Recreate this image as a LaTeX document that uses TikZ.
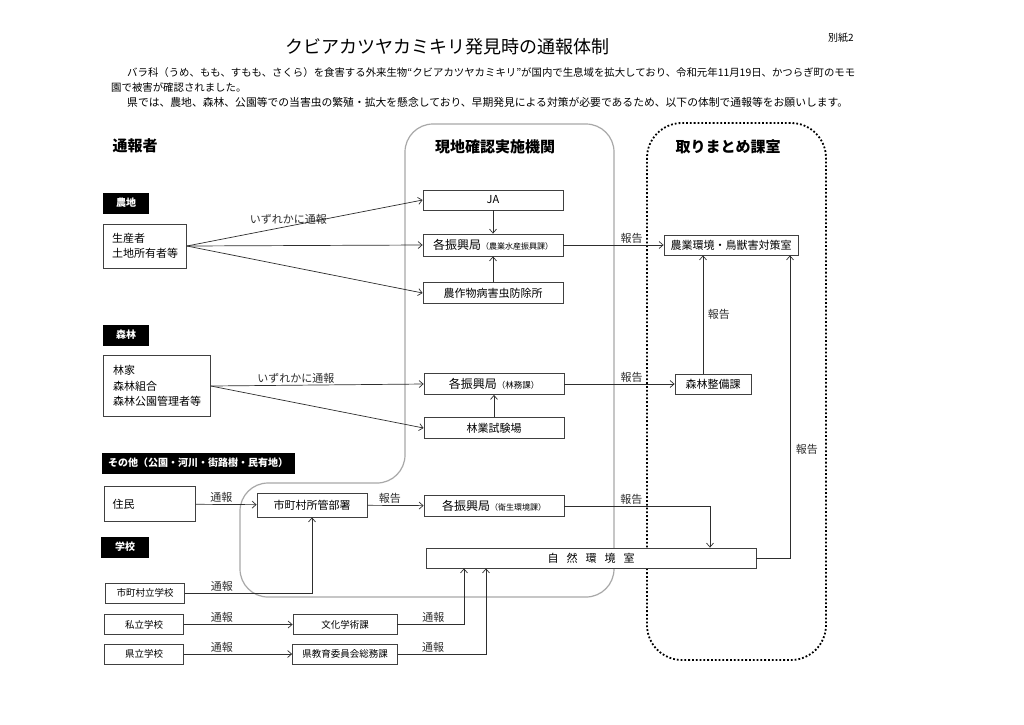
\documentclass[tikz,border=0pt]{standalone}
\usepackage{fontspec}
\setmainfont{Noto Sans CJK JP}
\usepackage{tikz}
\usetikzlibrary{arrows.meta, positioning}
\definecolor{edge}{HTML}{2E2E2E}
\definecolor{frame}{HTML}{A8A8A8}

\begin{document}
\begin{tikzpicture}[x=1pt, y=-1pt,
    box/.style={rectangle, draw=black!75, line width=0.8pt, fill=white, inner sep=0pt,
                font=\fontsize{11}{15.5}\selectfont},
    smallbox/.style={box, minimum width=79pt, minimum height=20pt, font=\fontsize{9.5}{11}\selectfont},
    office/.style={box, minimum width=140pt, minimum height=21pt, font=\fontsize{12}{13}\selectfont},
    tag/.style={rectangle, fill=black, text=white, inner sep=0pt, minimum height=21pt,
                font=\fontsize{10}{11}\selectfont\bfseries},
    head/.style={font=\fontsize{15}{16}\selectfont\bfseries},
    para/.style={anchor=west, inner sep=0pt, font=\fontsize{10.4}{12}\selectfont},
    arr/.style={-{Straight Barb[length=4pt, width=7pt]}, line width=0.7pt, edge},
    lbl/.style={font=\fontsize{11}{12}\selectfont, inner sep=1.5pt}
]
\useasboundingbox (0,0) rectangle (1024,724);
\fill[white] (0,0) rectangle (1024,724);

\node[font=\fontsize{18}{20}\selectfont] (title) at (447,47) {クビアカツヤカミキリ発見時の通報体制};
\node[font=\fontsize{10}{12}\selectfont] (annex) at (841,38) {別紙2};
\node[para] (intro1) at (127,73) {バラ科（うめ、もも、すもも、さくら）を食害する外来生物“クビアカツヤカミキリ”が国内で生息域を拡大しており、令和元年11月19日、かつらぎ町のモモ};
\node[para] (intro2) at (111,88) {園で被害が確認されました。};
\node[para, font=\fontsize{10.8}{12}\selectfont] (intro3) at (127,102) {県では、農地、森林、公園等での当害虫の繁殖・拡大を懸念しており、早期発見による対策が必要であるため、以下の体制で通報等をお願いします。};

\draw[frame, line width=1.2pt, rounded corners=28pt]
    (510,124) -- (614,124) -- (614,597) -- (240,597) -- (240,483) -- (405,483) -- (405,124) -- cycle;
\draw[black, line width=1.8pt, dotted, rounded corners=35pt] (647,123) rectangle (826,660);

\node[head] (hreporter) at (135,146) {通報者};
\node[head] (hcheck) at (495,147) {現地確認実施機関};
\node[head] (hsummary) at (728,147) {取りまとめ課室};

\node[tag, minimum width=46pt] (farm) at (126,203) {農地};
\node[tag, minimum width=46pt] (forest) at (126,335) {森林};
\node[tag, minimum width=193pt] (other) at (198,463) {その他（公園・河川・街路樹・民有地）};
\node[tag, minimum width=48pt] (school) at (125,547) {学校};

\node[box, minimum width=83pt, minimum height=44pt, align=left] (grower) at (145,246) {生産者\\土地所有者等};
\node[box, minimum width=107pt, minimum height=61pt, align=left] (forester) at (157,386) {林家\\森林組合\\森林公園管理者等};
\node[box, text width=75pt, inner xsep=8pt, minimum height=35pt, align=left] (resident) at (150,504) {住民};
\node[smallbox] (cityschool) at (145,593) {市町村立学校};
\node[smallbox] (privschool) at (144,624.5) {私立学校};
\node[smallbox] (prefschool) at (144,654) {県立学校};

\node[box, minimum width=140pt, minimum height=20pt] (ja) at (493,200) {JA};
\node[office, minimum height=22pt] (agrioffice) at (493,245) {各振興局{\fontsize{8}{9}\selectfont（農業水産振興課）}};
\node[box, minimum width=140pt, minimum height=21pt] (pestctl) at (493,293) {農作物病害虫防除所};
\node[office] (forestoffice) at (494,384) {各振興局{\fontsize{8.5}{9}\selectfont（林務課）}};
\node[box, minimum width=140pt, minimum height=21pt] (forestlab) at (494,428) {林業試験場};
\node[office] (envoffice) at (494,506) {各振興局{\fontsize{8}{9}\selectfont（衛生環境課）}};
\node[box, minimum width=110pt, minimum height=24pt] (citydept) at (312,505) {市町村所管部署};
\node[box, minimum width=330pt, minimum height=20pt] (nature) at (591,558) {自\hspace{8pt}然\hspace{8pt}環\hspace{8pt}境\hspace{8pt}室};
\node[smallbox, minimum width=104pt] (culture) at (345,624.5) {文化学術課};
\node[smallbox, minimum width=105pt] (eduboard) at (345,654) {県教育委員会総務課};

\node[box, minimum width=134pt, minimum height=20pt] (agrienv) at (731,245) {農業環境・鳥獣害対策室};
\node[box, minimum width=76pt, minimum height=20pt] (forestmgmt) at (713,384) {森林整備課};

\draw[arr] (grower.east) -- (ja.west) node[lbl, pos=0.43, above] {いずれかに通報};
\draw[arr] (grower.east) -- (agrioffice.west);
\draw[arr] (grower.east) -- (pestctl.west);
\draw[arr] (ja) -- (agrioffice);
\draw[arr] (pestctl) -- (agrioffice);
\draw[arr] (agrioffice) -- (agrienv) node[lbl, pos=0.68, above] {報告};

\draw[arr] (forester.east) -- (forestoffice.west) node[lbl, pos=0.4, above] {いずれかに通報};
\draw[arr] (forester.east) -- (forestlab.west);
\draw[arr] (forestlab) -- (forestoffice);
\draw[arr] (forestoffice) -- (forestmgmt) node[lbl, pos=0.61, above] {報告};
\draw[arr] ([xshift=-10pt]forestmgmt.north) -- ([xshift=-10pt]forestmgmt.north |- agrienv.south) node[lbl, midway, right=3pt] {報告};

\draw[arr] (resident) -- (citydept) node[lbl, pos=0.42, above] {通報};
\draw[arr] (citydept) -- (envoffice) node[lbl, pos=0.4, above] {報告};
\draw[arr] (envoffice.east) -| ([xshift=119pt]nature.north) node[lbl, pos=0.23, above] {報告};
\draw[arr] (nature.east) -| ([xshift=59pt]agrienv.south) node[lbl, pos=0.68, right=4pt] {報告};

\draw[arr] (cityschool.east) -| (citydept.south) node[lbl, pos=0.145, above] {通報};
\draw[arr] (privschool) -- (culture) node[lbl, pos=0.35, above] {通報};
\draw[arr] (prefschool) -- (eduboard) node[lbl, pos=0.35, above] {通報};
\draw[arr] (culture.east) -| ([xshift=-127pt]nature.south) node[lbl, pos=0.27, above] {通報};
\draw[arr] (eduboard.east) -| ([xshift=-105pt]nature.south) node[lbl, pos=0.2, above] {通報};
\end{tikzpicture}
\end{document}
